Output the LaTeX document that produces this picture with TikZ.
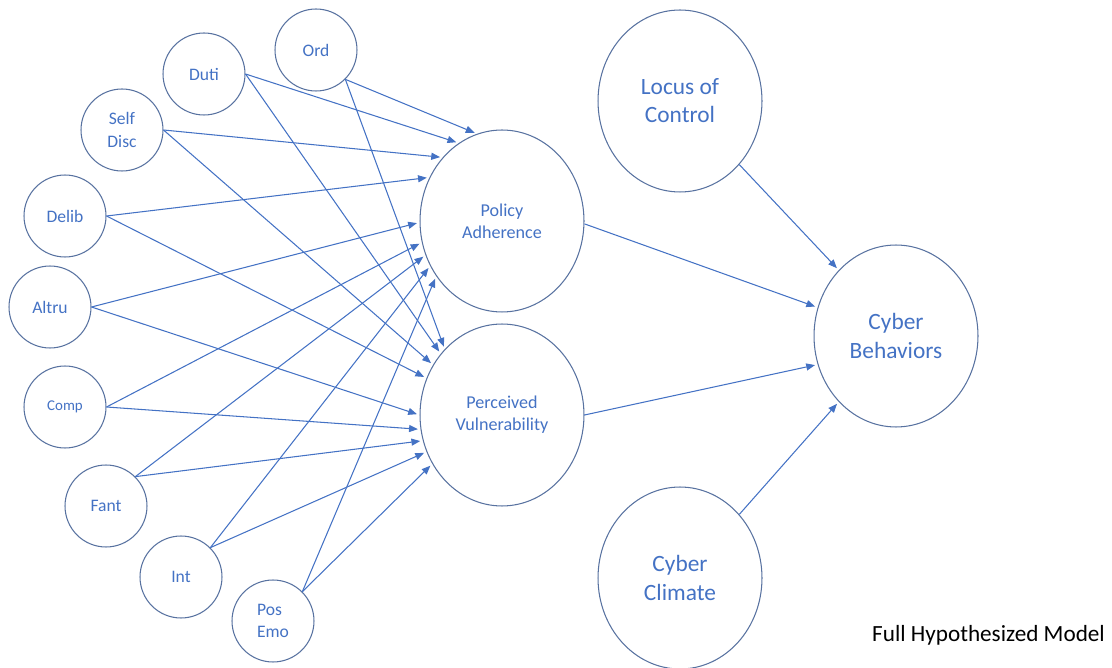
\documentclass[tikz,border=0pt]{standalone}
\usepackage{fontspec}
\setmainfont{Carlito}
\usepackage{xcolor}
\usetikzlibrary{shapes,arrows.meta}
\definecolor{txtblue}{RGB}{68,114,196}
\definecolor{rimblue}{RGB}{88,114,160}

\begin{document}
\begin{tikzpicture}[x=0.02cm,y=-0.02cm]
\tikzstyle{trait}=[circle,draw=rimblue,line width=0.6pt,minimum size=1.64cm,inner sep=0pt,text=txtblue,align=center,font=\fontsize{10}{13}\selectfont]
\tikzstyle{factor}=[ellipse,draw=rimblue,line width=0.6pt,minimum width=3.28cm,minimum height=3.64cm,inner sep=0pt,text=txtblue,align=center]
\tikzstyle{link}=[draw=txtblue,line width=0.6pt,-{Triangle[length=5pt,width=4pt]},shorten >=1.5pt]
\useasboundingbox (0,0) rectangle (1112,668);
\node[trait] (ord) at (316,50) {Ord};
\node[trait] (duti) at (204,74) {Duti};
\node[trait] (self) at (122,130) {Self\\Disc};
\node[trait] (delib) at (65,216) {Delib};
\node[trait] (altru) at (50,307) {Altru};
\node[trait,font=\fontsize{8.5}{10}\selectfont] (comp) at (65,407) {Comp};
\node[trait] (fant) at (106,506) {Fant};
\node[trait] (int) at (181,577) {Int};
\node[trait,align=left] (pos) at (273,621) {Pos\\Emo};
\node[factor,font=\fontsize{10.3}{12.5}\selectfont] (pa) at (502,221) {Policy\\Adherence};
\node[factor,font=\fontsize{10.3}{12.5}\selectfont] (pv) at (502,415) {Perceived\\Vulnerability};
\node[factor,font=\fontsize{13.3}{16}\selectfont] (loc) at (680,101) {Locus of\\Control};
\node[factor,font=\fontsize{13.3}{16}\selectfont] (cb) at (896,336) {Cyber\\Behaviors};
\node[factor,font=\fontsize{13.3}{16}\selectfont] (clim) at (680,578) {Cyber\\Climate};
\node[anchor=west,font=\fontsize{13.2}{16}\selectfont] (title) at (866,635) {Full Hypothesized Model};
\draw[link] (ord.-45) -- (pa.106);
\draw[link] (ord.-45) -- (pv.131);
\draw[link] (duti.0) -- (pa.119);
\draw[link] (duti.0) -- (pv.135);
\draw[link] (self.0) -- (pa.133);
\draw[link] (self.0) -- (pv.144);
\draw[link] (delib.0) -- (pa.149);
\draw[link] (delib.0) -- (pv.154);
\draw[link] (altru.0) -- (pa.181);
\draw[link] (altru.0) -- (pv.180);
\draw[link] (comp.0) -- (pa.195);
\draw[link] (comp.0) -- (pv.190);
\draw[link] (fant.45) -- (pa.204);
\draw[link] (fant.45) -- (pv.198);
\draw[link] (int.45) -- (pa.212);
\draw[link] (int.45) -- (pv.206);
\draw[link] (pos.45) -- (pa.220);
\draw[link] (pos.45) -- (pv.215);
\draw[link] (pa.-2) -- (cb.160);
\draw[link] (pv.0) -- (cb.200);
\draw[link] (loc.-47) -- (cb.131);
\draw[link] (clim.47) -- (cb.229);
\end{tikzpicture}
\end{document}
